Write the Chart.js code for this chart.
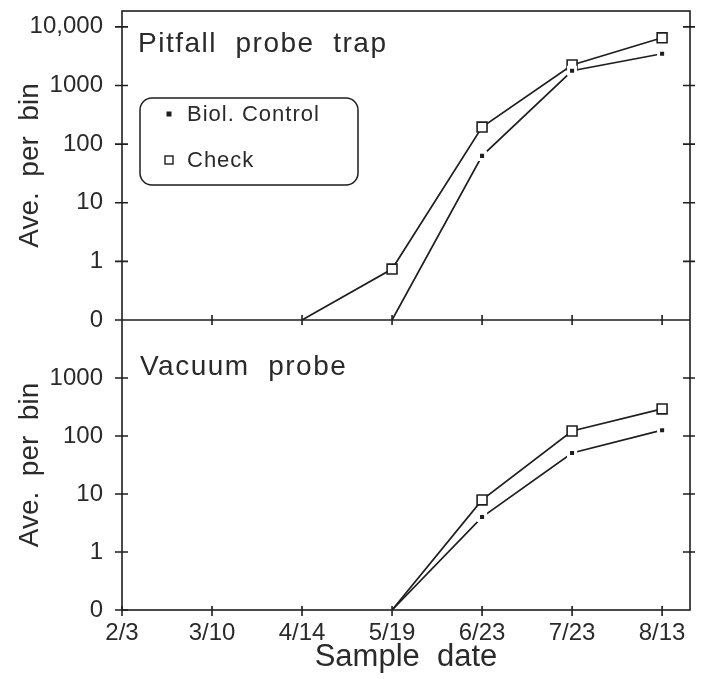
<!DOCTYPE html>
<html>
<head>
<meta charset="utf-8">
<script src="https://cdn.jsdelivr.net/npm/chart.js@4.4.1/dist/chart.umd.min.js"></script>
<style>
  html, body { margin: 0; padding: 0; background: #fff; }
  #wrap { width: 709px; height: 679px; }
</style>
</head>
<body>
<div id="wrap"><canvas id="chart" width="709" height="679"></canvas></div>
<script>
// sample dates on the x axis
const dates = ['2/3', '3/10', '4/14', '5/19', '6/23', '7/23', '8/13'];

// average per bin (null = not plotted)
const pitfallBiol  = [null, null, null, 0, 63, 1780, 3470];
const pitfallCheck = [null, null, 0, 0.74, 195, 2240, 6500];
const vacuumBiol   = [null, null, null, 0, 4, 51, 126];
const vacuumCheck  = [null, null, null, 0, 7.9, 122, 293];

// y tick values and their labels
const pitfallTicks = [0, 1, 10, 100, 1000, 10000];
const pitfallTickLabels = ['0', '1', '10', '100', '1000', '10,000'];
const vacuumTicks = [0, 1, 10, 100, 1000];
const vacuumTickLabels = ['0', '1', '10', '100', '1000'];

const ink = '#1e1e1e';
const textInk = '#2a2a2a';
const fontFamily = '"Liberation Sans", Arial, sans-serif';

// log axis where 0 sits one decade below 1
function toLog(v) {
  if (v === null) return null;
  return v > 0 ? Math.log10(v) : -1;
}
function points(arr) {
  return arr.map((v, i) => ({ x: i, y: toLog(v) }));
}

function checkSet(arr, axis) {
  return {
    label: 'Check',
    data: points(arr),
    yAxisID: axis,
    borderColor: ink,
    borderWidth: 1.7,
    pointStyle: 'rect',
    pointRadius: arr.map(v => v > 0 ? 7 : 0),
    pointBackgroundColor: '#fff',
    pointBorderColor: ink,
    pointBorderWidth: 1.6,
    tension: 0
  };
}
function biolSet(arr, axis) {
  return {
    label: 'Biol. Control',
    data: points(arr),
    yAxisID: axis,
    borderColor: ink,
    borderWidth: 1.7,
    pointStyle: 'rect',
    pointRadius: arr.map(v => v > 0 ? 5 : 0),
    pointBackgroundColor: ink,
    pointBorderColor: '#fff',
    pointBorderWidth: 3,
    tension: 0
  };
}

function yAxis(min, max, weight, ticks, labels) {
  return {
    type: 'linear',
    position: 'left',
    stack: 'panels',
    stackWeight: weight,
    min: min,
    max: max,
    grid: { display: false, drawTicks: false },
    border: { display: false },
    afterBuildTicks: s => { s.ticks = ticks.map(v => ({ value: toLog(v) })); },
    afterFit: s => { s.width = 122; s.paddingTop = 0; s.paddingBottom = 0; },
    ticks: {
      padding: 19,
      color: textInk,
      font: { family: fontFamily, size: 24 },
      callback: (val, i) => labels[i]
    },
    title: {
      display: true,
      text: 'Ave.  per  bin',
      color: textInk,
      font: { family: fontFamily, size: 28 },
      padding: { top: 13, bottom: 0 }
    }
  };
}

// frame, middle divider and tick marks crossing the axes
const framePlugin = {
  id: 'frame',
  beforeDatasetsDraw(chart) {
    const { ctx, chartArea: a, scales } = chart;
    const yt = scales.yTop, yb = scales.yBottom, x = scales.x;
    const mid = yt.getPixelForValue(-1);
    ctx.save();
    ctx.strokeStyle = ink;
    ctx.lineWidth = 1.6;
    ctx.strokeRect(a.left, a.top, a.right - a.left, a.bottom - a.top);
    ctx.beginPath();
    ctx.moveTo(a.left, mid);
    ctx.lineTo(a.right, mid);
    // left / right ticks
    pitfallTicks.forEach(v => {
      const y = yt.getPixelForValue(toLog(v));
      ctx.moveTo(a.left - 7, y); ctx.lineTo(a.left + 6, y);
      if (v > 0) { ctx.moveTo(a.right - 7, y); ctx.lineTo(a.right + 5, y); }
    });
    vacuumTicks.forEach(v => {
      const y = yb.getPixelForValue(toLog(v));
      ctx.moveTo(a.left - 7, y); ctx.lineTo(a.left + 6, y);
      if (v > 0) { ctx.moveTo(a.right - 7, y); ctx.lineTo(a.right + 5, y); }
    });
    // x ticks on divider and bottom
    dates.forEach((d, i) => {
      const px = x.getPixelForValue(i);
      if (i > 0) { ctx.moveTo(px, mid - 5); ctx.lineTo(px, mid + 5); }
      ctx.moveTo(px, a.bottom - 4); ctx.lineTo(px, a.bottom + 6);
    });
    ctx.stroke();
    ctx.restore();
  },
  afterDraw(chart) {
    const { ctx, chartArea: a } = chart;
    ctx.save();
    ctx.fillStyle = textInk;
    ctx.textBaseline = 'alphabetic';
    ctx.textAlign = 'left';
    ctx.font = '28px ' + fontFamily;
    ctx.letterSpacing = '1.5px';
    ctx.fillText('Pitfall  probe  trap', a.left + 16, 52);
    ctx.fillText('Vacuum  probe', a.left + 18, 375);

    // legend box
    ctx.strokeStyle = ink;
    ctx.lineWidth = 1.5;
    ctx.beginPath();
    ctx.roundRect(140, 98, 218, 87, 12);
    ctx.stroke();
    ctx.fillStyle = ink;
    ctx.fillRect(166.5, 111.5, 5, 5);
    ctx.fillStyle = '#fff';
    ctx.lineWidth = 1.4;
    ctx.fillRect(165, 156, 8, 8);
    ctx.strokeRect(165, 156, 8, 8);
    ctx.fillStyle = textInk;
    ctx.font = '22px ' + fontFamily;
    ctx.letterSpacing = '1px';
    ctx.textBaseline = 'middle';
    ctx.fillText('Biol. Control', 187, 115);
    ctx.fillText('Check', 187, 161);
    ctx.restore();
  }
};

new Chart(document.getElementById('chart'), {
  type: 'line',
  data: {
    datasets: [
      biolSet(pitfallBiol, 'yTop'),
      checkSet(pitfallCheck, 'yTop'),
      biolSet(vacuumBiol, 'yBottom'),
      checkSet(vacuumCheck, 'yBottom')
    ]
  },
  options: {
    responsive: false,
    animation: false,
    events: [],
    layout: { padding: { left: 0, right: 19, top: 11, bottom: 0 } },
    plugins: {
      legend: { display: false },
      tooltip: { enabled: false }
    },
    scales: {
      x: {
        type: 'linear',
        position: 'bottom',
        min: 0,
        max: 6.31,
        grid: { display: false, drawTicks: false },
        border: { display: false },
        afterBuildTicks: s => { s.ticks = dates.map((d, i) => ({ value: i })); },
        afterFit: s => { s.height = 69; s.paddingLeft = 0; s.paddingRight = 0; },
        ticks: {
          padding: 9,
          autoSkip: false,
          maxRotation: 0,
          color: textInk,
          font: { family: fontFamily, size: 24 },
          callback: val => dates[val]
        },
        title: {
          display: true,
          text: 'Sample  date',
          color: textInk,
          font: { family: fontFamily, size: 31 },
          padding: { top: 0, bottom: 3 }
        }
      },
      // first stacked axis is laid out at the bottom
      yBottom: yAxis(-1, 4, 290, vacuumTicks, vacuumTickLabels),
      yTop: yAxis(-1, 4.27, 309, pitfallTicks, pitfallTickLabels)
    }
  },
  plugins: [framePlugin]
});
</script>
</body>
</html>
